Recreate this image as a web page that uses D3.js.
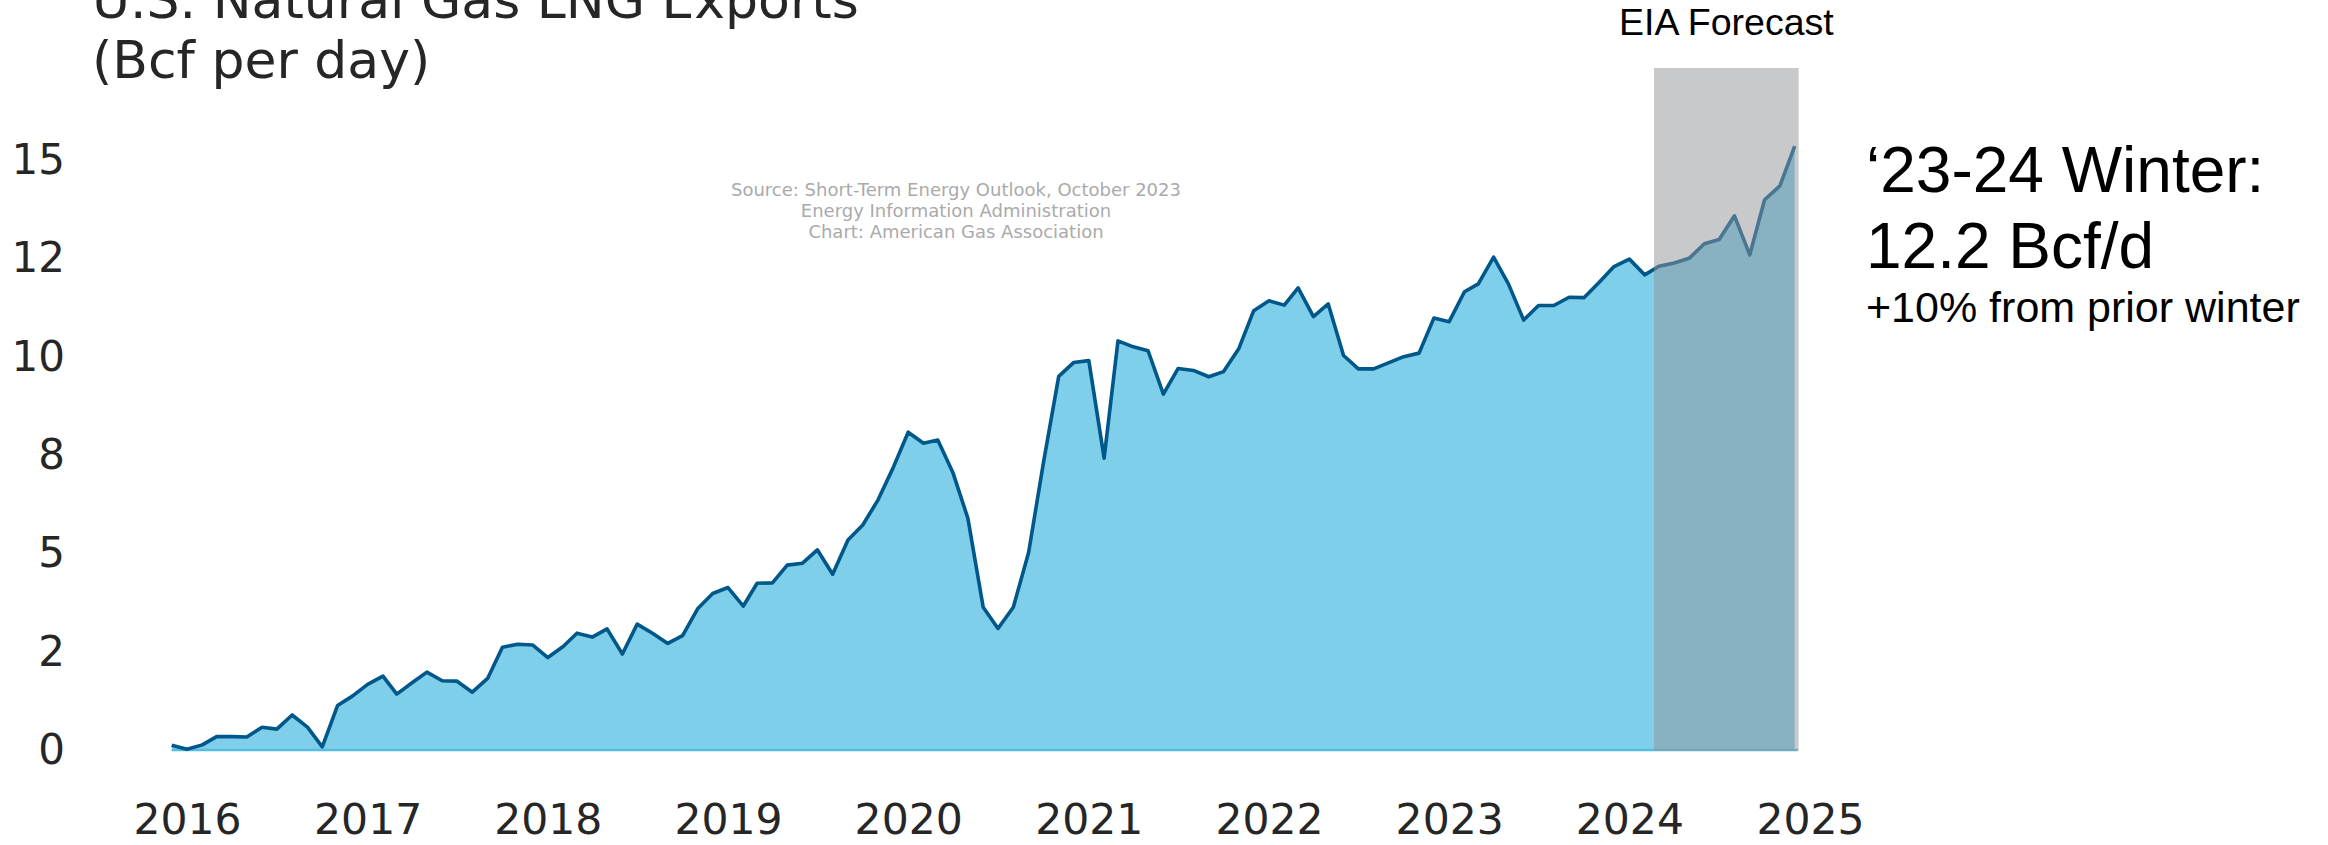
<!DOCTYPE html>
<html><head><meta charset="utf-8">
<script src="https://cdn.jsdelivr.net/npm/d3@7"></script>
<style>body{margin:0;background:#fff}svg{display:block}</style>
</head><body>
<svg id="chart" width="2328" height="845"></svg>
<script>
// ---- data ----
const seriesStart = "2015-12-01";   // first monthly point
const lngExports = [
  0.12,0.02,0.13,0.34,0.34,0.33,0.58,0.53,0.89,0.58,0.08,1.13,
  1.37,1.67,1.88,1.42,1.71,1.98,1.76,1.75,1.47,1.82,2.61,2.69,
  2.67,2.35,2.63,2.97,2.87,3.08,2.44,3.20,2.97,2.71,2.91,3.60,
  3.98,4.13,3.66,4.24,4.25,4.70,4.75,5.09,4.47,5.34,5.72,6.36,
  7.16,8.08,7.80,7.88,7.04,5.89,3.63,3.09,3.63,5.02,7.30,9.50,
  9.85,9.90,7.42,10.40,10.25,10.15,9.05,9.70,9.65,9.49,9.62,10.21,
  11.17,11.42,11.31,11.75,11.02,11.34,10.03,9.69,9.69,9.85,10.00,10.09,
  10.98,10.89,11.65,11.85,12.53,11.85,10.93,11.30,11.30,11.51,11.50,11.89,
  12.29,12.48,12.08,12.30,12.38,12.50,12.87,12.98,13.58,12.59,13.99,14.34,
  15.35
];
const yearTicks = [2016,2017,2018,2019,2020,2021,2022,2023,2024,2025];
const yTickValues = [0,2.5,5,7.5,10,12.5,15];
const yTickLabels = ["0","2","5","8","10","12","15"];
const forecastWindow = ["2024-02-20","2024-12-09"];
const forecastLabel = "EIA Forecast";
const titleLines = ["U.S. Natural Gas LNG Exports","(Bcf per day)"];
const sourceLines = ["Source: Short-Term Energy Outlook, October 2023",
                     "Energy Information Administration",
                     "Chart: American Gas Association"];
const calloutLines = ["\u201823-24 Winter:","12.2 Bcf/d","+10% from prior winter"];

// ---- layout ----
const svg = d3.select("#chart");
const plotTop = 68;
const start = new Date(seriesStart + "T00:00:00Z");
const data = lngExports.map((v,i)=>({date:d3.utcMonth.offset(start,i), value:v}));

const x = d3.scaleUtc()
  .domain([new Date(Date.UTC(2016,0,1)), new Date(Date.UTC(2025,0,1))])
  .range([187,1810]);
const y = d3.scaleLinear().domain([0,15]).range([750,160]);

const area = d3.area().x(d=>x(d.date)).y0(y(0)).y1(d=>y(d.value));
const line = d3.line().x(d=>x(d.date)).y(d=>y(d.value));

svg.append("path").datum(data).attr("d",area).attr("fill","#7fcfea");
svg.append("line")
  .attr("x1",x(data[0].date)).attr("x2",x(data[data.length-1].date)+3)
  .attr("y1",y(0)).attr("y2",y(0))
  .attr("stroke","#56bde3").attr("stroke-width",2.5);
svg.append("path").datum(data).attr("d",line)
  .attr("fill","none").attr("stroke","#00588a").attr("stroke-width",3.6)
  .attr("stroke-linejoin","round");

// forecast band
const f0 = x(new Date(forecastWindow[0]+"T00:00:00Z"));
const f1 = x(new Date(forecastWindow[1]+"T00:00:00Z"));
svg.append("rect").attr("x",f0).attr("y",plotTop)
  .attr("width",f1-f0).attr("height",y(0)-plotTop+1)
  .attr("fill","#919397").attr("fill-opacity",0.5);
svg.append("text").attr("x",(f0+f1)/2).attr("y",35)
  .attr("text-anchor","middle")
  .attr("font-family","'Liberation Sans', Arial, sans-serif")
  .attr("font-size",37.5).attr("fill","#000").text(forecastLabel);

// axes
const yAxis = d3.axisLeft(y).tickValues(yTickValues)
  .tickFormat((d,i)=>yTickLabels[i]).tickSize(0).tickPadding(0);
const gy = svg.append("g").attr("transform","translate(65,0)").call(yAxis);
gy.select(".domain").remove();
gy.selectAll("text").attr("font-family","'DejaVu Sans', sans-serif")
  .attr("font-size",42).attr("fill","#262626");

const xAxis = d3.axisBottom(x)
  .tickValues(yearTicks.map(yr=>new Date(Date.UTC(yr,0,1))))
  .tickFormat(d3.utcFormat("%Y")).tickSize(0).tickPadding(0);
const gx = svg.append("g").attr("transform","translate(0,804)").call(xAxis);
gx.select(".domain").remove();
gx.selectAll("text").attr("font-family","'DejaVu Sans', sans-serif")
  .attr("font-size",42.5).attr("fill","#262626");

// title
svg.append("g").selectAll("text").data(titleLines).join("text")
  .attr("x",92).attr("y",(d,i)=>18+i*60)
  .attr("font-family","'DejaVu Sans', sans-serif")
  .attr("font-size",52).attr("fill","#262626").text(d=>d);

// source note
svg.append("g").selectAll("text").data(sourceLines).join("text")
  .attr("x",956).attr("y",(d,i)=>196+i*21)
  .attr("text-anchor","middle")
  .attr("font-family","'DejaVu Sans', sans-serif")
  .attr("font-size",18).attr("fill","#aaaaaa").text(d=>d);

// callout
const calloutY = [192,268,322];
const calloutSize = [64,64,43];
svg.append("g").selectAll("text").data(calloutLines).join("text")
  .attr("x",1866).attr("y",(d,i)=>calloutY[i])
  .attr("font-family","'Liberation Sans', Arial, sans-serif")
  .attr("font-size",(d,i)=>calloutSize[i]).attr("fill","#000").text(d=>d);
</script>
</body></html>
